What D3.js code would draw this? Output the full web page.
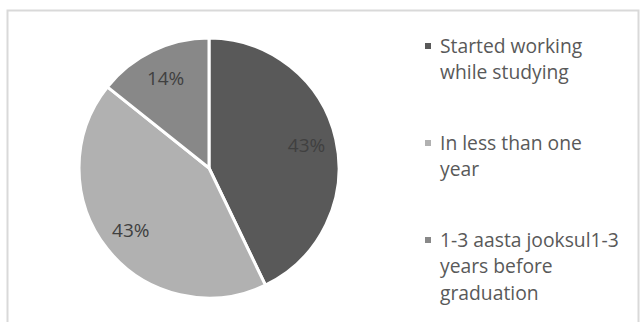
<!DOCTYPE html>
<html>
<head>
<meta charset="utf-8">
<script src="https://d3js.org/d3.v7.min.js"></script>
<style>
  body { margin: 0; background: #fff; }
  text { font-family: "Open Sans", sans-serif; }
</style>
</head>
<body>
<script>
var width = 640,
    height = 322;

// slice data, clockwise from 12 o'clock
var categories = ["Started working while studying", "In less than one year", "1-3 aasta jooksul1-3 years before graduation"];
var values = [3, 3, 1];
var percentLabels = ["43%", "43%", "14%"];
var legendLines = [
  ["Started working", "while studying"],
  ["In less than one", "year"],
  ["1-3 aasta jooksul1-3", "years before", "graduation"]
];
var colors = ["#595959", "#b1b1b1", "#888888"];

var svg = d3.select("body").append("svg")
    .attr("width", width)
    .attr("height", height);

// chart frame (runs off the right and bottom edges)
svg.append("rect")
    .attr("x", 7.5)
    .attr("y", 10.5)
    .attr("width", 631)
    .attr("height", 340)
    .attr("fill", "none")
    .attr("stroke", "#d9d9d9")
    .attr("stroke-width", 2);

var radius = 130;
var pieG = svg.append("g")
    .attr("transform", "translate(209,168)");

var pie = d3.pie()
    .sort(null)
    .value(function(d) { return d; });

var arc = d3.arc()
    .innerRadius(0)
    .outerRadius(radius);

var labelArc = d3.arc()
    .innerRadius(100)
    .outerRadius(100);

var arcs = pie(values);

pieG.selectAll("path")
    .data(arcs)
    .enter().append("path")
    .attr("d", arc)
    .attr("fill", function(d, i) { return colors[i]; })
    .attr("stroke", "#fff")
    .attr("stroke-width", 3)
    .attr("stroke-linejoin", "round");

pieG.selectAll("text.pct")
    .data(arcs)
    .enter().append("text")
    .attr("class", "pct")
    .attr("transform", function(d) { return "translate(" + labelArc.centroid(d) + ")"; })
    .attr("text-anchor", "middle")
    .attr("dy", ".35em")
    .attr("fill", "#404040")
    .style("font-size", "19px")
    .text(function(d, i) { return percentLabels[i]; });

// legend
var legendY = d3.scalePoint()
    .domain(categories)
    .range([46, 240]);

var lineHeight = 26.5;

var legend = svg.append("g").attr("class", "legend")
    .selectAll("g")
    .data(categories)
    .enter().append("g")
    .attr("transform", function(d) { return "translate(425," + legendY(d) + ")"; });

legend.append("rect")
    .attr("x", 0)
    .attr("y", -3)
    .attr("width", 6)
    .attr("height", 6)
    .attr("fill", function(d, i) { return colors[i]; });

legend.append("text")
    .attr("x", 15)
    .attr("y", 0)
    .attr("fill", "#595959")
    .style("font-size", "19.3px")
    .each(function(d, i) {
      var t = d3.select(this);
      legendLines[i].forEach(function(line, j) {
        t.append("tspan")
          .attr("x", 15)
          .attr("y", j * lineHeight)
          .attr("dy", ".35em")
          .text(line);
      });
    });
</script>
</body>
</html>
